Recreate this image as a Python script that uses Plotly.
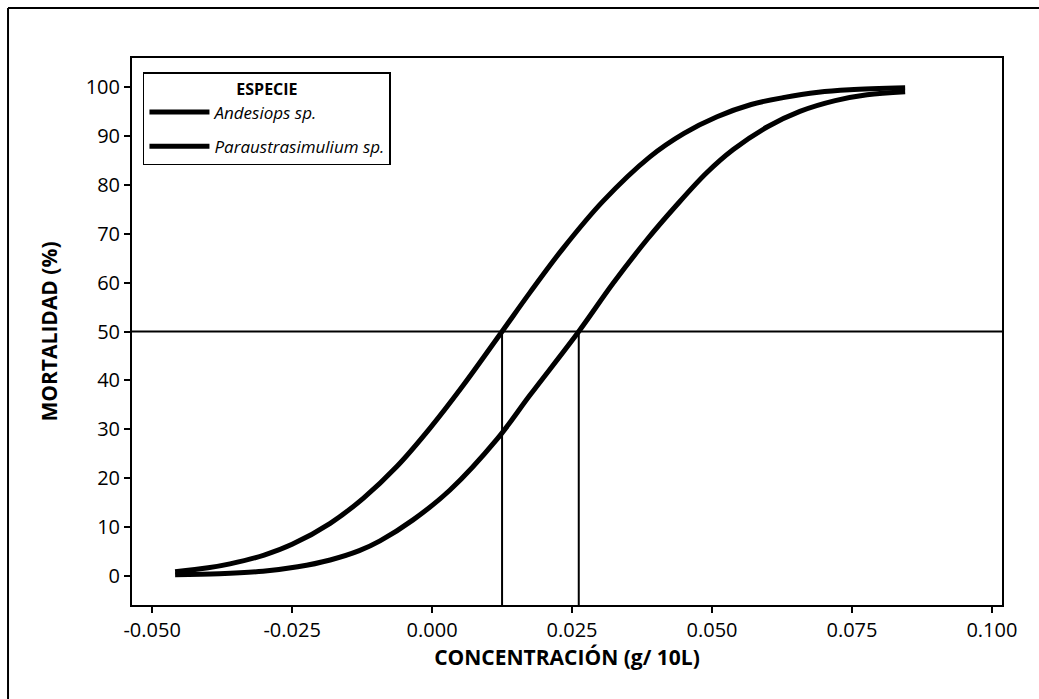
import plotly.graph_objects as go

# Data
andesiops_x = [-0.0459, -0.0400, -0.0361, -0.0300, -0.0250, -0.0182, -0.0123, -0.0063,
               -0.0004, 0.0055, 0.0125, 0.0175, 0.0234, 0.0305, 0.0389, 0.0450,
               0.0509, 0.0570, 0.0627, 0.0690, 0.0746, 0.0845]
andesiops_y = [0.9, 1.7, 2.5, 4.3, 6.5, 10.8, 15.9, 22.4,
               30.2, 38.9, 50.0, 58.0, 67.0, 76.6, 85.7, 90.5,
               93.9, 96.4, 97.8, 98.9, 99.4, 99.8]

para_x = [-0.0459, -0.0380, -0.0302, -0.0240, -0.0182, -0.0130, -0.0093, -0.0034,
          0.0032, 0.0116, 0.0175, 0.0262, 0.0323, 0.0384, 0.0435, 0.0490,
          0.0538, 0.0600, 0.0657, 0.0720, 0.0777, 0.0845]
para_y = [0.3, 0.5, 1.0, 1.9, 3.3, 5.2, 7.2, 11.5,
          17.6, 28.0, 37.0, 50.0, 59.8, 68.8, 75.6, 82.4,
          87.2, 91.9, 95.0, 97.2, 98.4, 99.0]

lc50_x = [0.0125, 0.0262]
ref_y = 50

x_tickvals = [-0.050, -0.025, 0.000, 0.025, 0.050, 0.075, 0.100]
x_ticktext = ["-0.050", "-0.025", "0.000", "0.025", "0.050", "0.075", "0.100"]
y_tickvals = [0, 10, 20, 30, 40, 50, 60, 70, 80, 90, 100]

names = ["Andesiops sp.", "Paraustrasimulium sp."]

x_range = [-0.0536, 0.1018]
y_range = [-5.9, 105.9]

fig = go.Figure()

# reference lines
fig.add_trace(go.Scatter(x=x_range, y=[ref_y, ref_y], mode="lines",
                         line=dict(color="black", width=2), showlegend=False, hoverinfo="skip"))
for lx in lc50_x:
    fig.add_trace(go.Scatter(x=[lx, lx], y=[y_range[0], ref_y], mode="lines",
                             line=dict(color="black", width=2), showlegend=False, hoverinfo="skip"))

fig.add_trace(go.Scatter(x=andesiops_x, y=andesiops_y, mode="lines", name=names[0],
                         legendgroup="a",
                         line=dict(color="black", width=5, shape="spline", smoothing=1.0)))
fig.add_trace(go.Scatter(x=para_x, y=para_y, mode="lines", name=names[1],
                         legendgroup="b",
                         line=dict(color="black", width=5, shape="spline", smoothing=1.0)))

fig.update_layout(
    width=1039, height=699,
    margin=dict(l=132, r=37, t=58, b=94),
    paper_bgcolor="white", plot_bgcolor="white",
    font=dict(family="Open Sans", color="black", size=20),
    showlegend=True,
    legend=dict(
        x=0.0126, y=0.974, xanchor="left", yanchor="top",
        bordercolor="black", borderwidth=1.5, bgcolor="white",
        title=dict(text="<b>ESPECIE</b>", side="top center",
                   font=dict(family="Open Sans", size=16, color="black", style="normal")),
        font=dict(family="Open Sans", size=17, color="black", style="italic"),
        itemwidth=60, tracegroupgap=9,
        entrywidth=285, entrywidthmode="pixels",
    ),
    xaxis=dict(
        range=x_range, tickvals=x_tickvals, ticktext=x_ticktext,
        showgrid=False, zeroline=False,
        showline=True, linecolor="black", linewidth=2, mirror=True,
        ticks="outside", ticklen=6, tickwidth=1.5, tickcolor="black",
        tickfont=dict(size=20),
        title=dict(text="<b>CONCENTRACIÓN (g/ 10L)</b>", font=dict(size=21), standoff=6),
    ),
    yaxis=dict(
        range=y_range, tickvals=y_tickvals,
        showgrid=False, zeroline=False,
        showline=True, linecolor="black", linewidth=2, mirror=True,
        ticks="outside", ticklen=6, tickwidth=1.5, tickcolor="black",
        tickfont=dict(size=20),
        title=dict(text="<b>MORTALIDAD (%)</b>", font=dict(size=21), standoff=22),
    ),
)

# outer frame (scanned page border)
fig.add_shape(type="line", xref="paper", yref="paper",
              x0=-0.1425, x1=1.1, y0=1.0914, y1=1.0914,
              line=dict(color="black", width=2))
fig.add_shape(type="line", xref="paper", yref="paper",
              x0=-0.1425, x1=-0.1425, y0=-0.2, y1=1.0914,
              line=dict(color="black", width=2))

fig.write_html("out.html")
